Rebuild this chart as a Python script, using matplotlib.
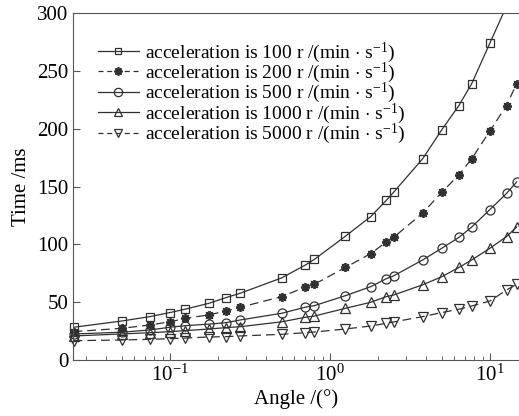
import matplotlib
matplotlib.use('Agg')
import matplotlib.pyplot as plt
import numpy as np

plt.rcParams['font.family'] = ['Liberation Serif', 'DejaVu Serif']
plt.rcParams['mathtext.fontset'] = 'custom'
plt.rcParams['mathtext.rm'] = 'Liberation Serif'
plt.rcParams['mathtext.it'] = 'Liberation Serif:italic'

# angle in degrees (log axis)
angle = [0.025, 0.05, 0.075, 0.1, 0.125, 0.175, 0.225, 0.275, 0.5, 0.7, 0.8,
         1.25, 1.8, 2.25, 2.5, 3.8, 5, 6.4, 7.7, 10, 12.7, 14.7]

# time in ms for each acceleration
t_100 = [28.3, 33.7, 37.5, 41, 44, 49, 54, 57.7, 71, 82, 87,
         107, 124, 138, 145, 174, 199, 220, 239, 274, 306, 330]
t_200 = [24.5, 27.4, 30.3, 33, 36, 39, 42.4, 45.6, 54.8, 63, 65.5,
         80, 92, 102, 106, 127, 145, 160, 174, 198, 220, 239]
t_500 = [22.5, 24, 26, 28.3, 29.7, 31, 32.3, 34.6, 40.4, 45.6, 47,
         55.6, 63.4, 70.3, 72.7, 86.5, 96.6, 106, 115, 130, 144, 154]
t_1000 = [20.8, 22.5, 23.6, 24.5, 25.4, 26.8, 28, 28.8, 33, 36.9, 38,
          44.7, 49.9, 54.8, 56.2, 65, 72, 80, 86.5, 96.6, 106.7, 115]
t_5000 = [16.7, 17.3, 17.9, 18.4, 19, 19.9, 20.2, 20.8, 22.2, 23.6, 24.2,
          26.8, 29.4, 31.7, 32.9, 37.5, 41, 43.9, 46.7, 51, 60.5, 65.5]

labels = ['acceleration is 100 r /(min $\\cdot$ s$^{-1}$)',
          'acceleration is 200 r /(min $\\cdot$ s$^{-1}$)',
          'acceleration is 500 r /(min $\\cdot$ s$^{-1}$)',
          'acceleration is 1000 r /(min $\\cdot$ s$^{-1}$)',
          'acceleration is 5000 r /(min $\\cdot$ s$^{-1}$)']

series = [t_100, t_200, t_500, t_1000, t_5000]
markers = ['s', (8, 2, 0), 'o', '^', 'v']
styles = ['-', '--', '-', '-', '--']
col = '#303030'

fig = plt.figure(figsize=(5.19, 4.16), dpi=100)
ax = fig.add_axes([73 / 519, 56 / 416, 1 - 73 / 519, 347 / 416])

x = np.array(angle)
for y, m, ls, lab in zip(series, markers, styles, labels):
  y = np.array(y)
  ax.plot(x, y, ls, color=col, lw=0.9, dashes=(7, 4) if ls == '--' else (None, None))
  keep = y <= 300
  ax.plot(x[keep], y[keep], ls='none', marker=m, ms=6.5 if m != 's' else 5.5,
          mfc='none', mec=col, mew=0.9 if m != (8, 2, 0) else 1.3, clip_on=False)
  # legend proxy
  ax.plot([], [], ls, color=col, lw=0.9, marker=m, ms=6 if m != 's' else 5,
          mfc='none', mec=col, mew=0.9 if m != (8, 2, 0) else 1.3,
          dashes=(4, 3) if ls == '--' else (None, None), label=lab)

ax.set_xscale('log')
ax.set_xlim(0.0248, 15.2)
ax.set_ylim(0, 300)
ax.set_yticks(range(0, 301, 50))
ax.spines['right'].set_visible(False)
for s in ax.spines.values():
  s.set_color('#555555')
ax.tick_params(which='both', direction='in', labelsize=15, colors='#555555',
               labelcolor='black')
ax.tick_params(which='major', length=5)
ax.tick_params(which='minor', length=3)

ax.set_xlabel('Angle /(°)', fontsize=15, labelpad=2)
ax.set_ylabel('Time /ms', fontsize=15, labelpad=4)

ax.legend(loc='upper left', bbox_to_anchor=(0.03, 0.955), frameon=False,
          fontsize=14, handlelength=2.1, handletextpad=0.3, labelspacing=-0.2,
          borderaxespad=0.2)

fig.savefig('out.png', dpi=100)
